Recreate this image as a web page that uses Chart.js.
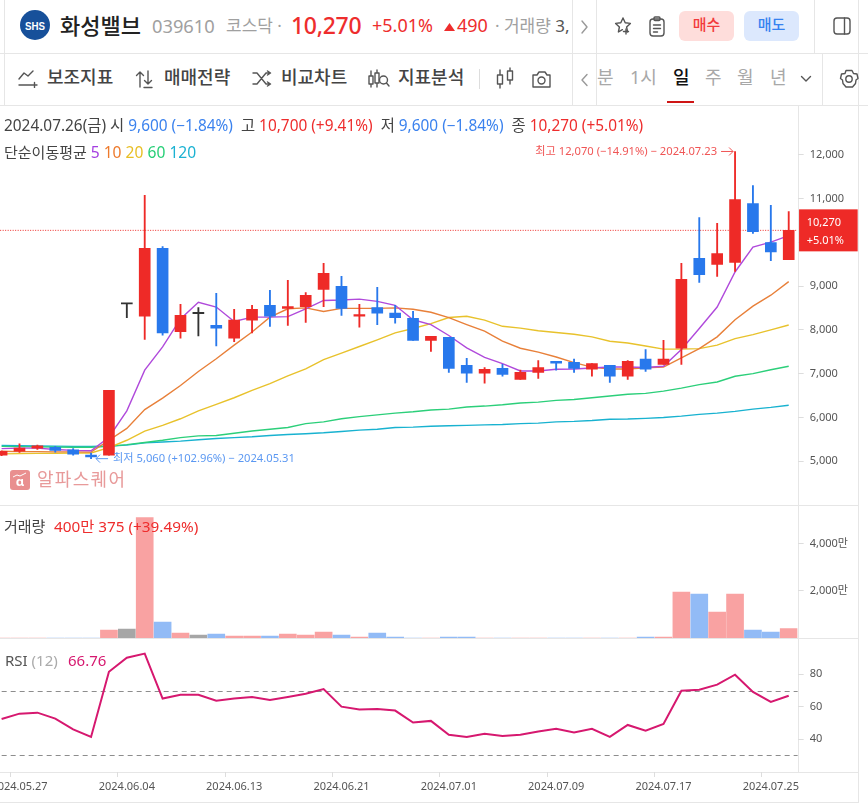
<!DOCTYPE html>
<html lang="ko">
<head>
<meta charset="utf-8">
<title>화성밸브</title>
<script src="https://cdn.jsdelivr.net/npm/chart.js@4"></script>
<style>
html,body{margin:0;padding:0;background:#fff;overflow:hidden;width:868px;height:806px;font-family:"Noto Sans","Noto Sans CJK KR",sans-serif;}
#page{position:relative;width:868px;height:806px;overflow:hidden;}
.t{position:absolute;white-space:nowrap;transform:translateY(-50%);line-height:1.2;}
.h{position:absolute;background:#e6e6e6;height:1px;}
.v{position:absolute;background:#e6e6e6;width:1px;}
.w{font-weight:500;color:#444;font-size:18px;}
.p{color:#a8a8a8;font-size:18px;}
.btn{position:absolute;top:11px;width:55px;height:30px;border-radius:6px;text-align:center;line-height:27px;font-size:15px;font-weight:500;}
.ic{position:absolute;fill:none;stroke:#555;stroke-width:1.4;stroke-linecap:round;stroke-linejoin:round;}
#cv{position:absolute;left:-8px;top:94px;}
.r{color:#ee2d2d}.b{color:#3b82ee}.k{color:#444}
</style>
</head>
<body>
<div id="page">
  <div class="h" style="left:0;top:53px;width:868px"></div>
  <div class="h" style="left:0;top:105px;width:868px"></div>
  <div class="v" style="left:4px;top:0;height:105px"></div>
  <div class="v" style="left:572px;top:0;height:105px"></div>
  <div class="v" style="left:596px;top:0;height:105px"></div>
  <div class="v" style="left:814px;top:0;height:53px"></div>
  <div class="v" style="left:822px;top:54px;height:51px"></div>
  <div class="v" style="left:858px;top:0;height:803px"></div>
  <div class="v" style="left:798px;top:106px;height:666px"></div>
  <div class="h" style="left:0;top:505px;width:858px"></div>
  <div class="h" style="left:0;top:638px;width:858px"></div>
  <div class="h" style="left:0;top:772px;width:858px"></div>
  <div class="h" style="left:0;top:802px;width:858px"></div>

  <svg style="position:absolute;left:20px;top:10px" width="30" height="30"><circle cx="15" cy="15" r="15" fill="#17509a"/><text x="15" y="19.5" text-anchor="middle" font-size="11.5" font-weight="900" fill="#fff" font-family="Liberation Sans Narrow,Liberation Sans" textLength="20" lengthAdjust="spacingAndGlyphs">SHS</text></svg>
  <span class="t" style="left:60px;top:25px;font-size:22px;font-weight:500;color:#222">화성밸브</span>
  <span class="t" style="left:152px;top:26px;font-size:18.300px;color:#a0a0a0">039610</span>
  <span class="t" style="left:226px;top:26px;font-size:17px;color:#a0a0a0">코스닥 ·</span>
  <span class="t r" style="left:291px;top:26px;font-size:23px;font-weight:500;letter-spacing:-.3px">10,270</span>
  <span class="t r" style="left:372px;top:26px;font-size:18px">+5.01%</span>
  <svg style="position:absolute;left:444px;top:23px" width="11" height="8"><path d="M5.5 0L11 8H0z" fill="#ee2d2d"/></svg>
  <span class="t r" style="left:457px;top:26px;font-size:18px">490</span>
  <div style="position:absolute;left:490px;top:10px;width:81px;height:32px;overflow:hidden">
    <span class="t" style="left:5px;top:16px;font-size:17px;color:#a0a0a0">· 거래량 <span style="color:#555">3,</span></span>
  </div>
  <svg class="ic" style="left:580px;top:20px" width="10" height="14"><path d="M2 1l5 6l-5 6" stroke="#999"/></svg>
  <svg class="ic" style="left:614px;top:16px" width="20" height="20"><path d="M9 2l2.2 4.8l5.2.6l-3.8 3.6l1 5l-1.2-.7M9 2L6.8 6.8l-5.2.6l3.8 3.6l-1 5l4-2.3"/><path d="M12 13v5M9.5 15.500h5"/></svg>
  <svg class="ic" style="left:648px;top:16px" width="18" height="21"><rect x="2" y="3" width="14" height="17" rx="3"/><rect x="6" y="1" width="6" height="3.500" rx="1"/><path d="M5.500 9h7M5.500 12.500h7M5.500 16h4"/></svg>
  <div class="btn" style="left:679px;background:#fedddb;color:#f23b3b">매수</div>
  <div class="btn" style="left:744px;background:#dce8fd;color:#3682f0">매도</div>
  <svg class="ic" style="left:832px;top:16px" width="20" height="20"><rect x="2" y="2" width="16" height="16" rx="3"/><path d="M12.500 2v16"/></svg>

  <svg class="ic" style="left:18px;top:70px" width="20" height="18"><path d="M1 9l5-6l4 3l5-5M1 15h13M16.500 12.500v5M14 15h5"/></svg>
  <span class="t w" style="left:47px;top:78px">보조지표</span>
  <svg class="ic" style="left:135px;top:69px" width="20" height="20"><path d="M5 18V3M1.500 6.500L5 3l3.500 3.500M13 2v13M9.500 11.500L13 15l3.500-3.500M9 18.500h8"/></svg>
  <span class="t w" style="left:164px;top:78px">매매전략</span>
  <svg class="ic" style="left:252px;top:70px" width="20" height="18"><path d="M1 3h4l9 11h4M1 14h4l9-11h4M15.500 1l3 2l-3 2M15.500 12l3 2l-3 2"/></svg>
  <span class="t w" style="left:281px;top:78px">비교차트</span>
  <svg class="ic" style="left:368px;top:69px" width="22" height="20"><path d="M3 2v16M9 1v17"/><rect x="1" y="7" width="4" height="8" fill="#fff"/><rect x="7" y="4" width="4" height="10" fill="#fff"/><circle cx="15.500" cy="11" r="4" fill="#fff"/><path d="M18.500 14l2.500 3"/></svg>
  <span class="t w" style="left:398px;top:78px">지표분석</span>
  <div class="v" style="left:479px;top:69px;height:20px;background:#ddd"></div>
  <svg class="ic" style="left:494px;top:67px" width="22" height="22"><path d="M6 3v18M16 1v16"/><rect x="3.500" y="8" width="5" height="9" fill="#fff"/><rect x="13.500" y="4" width="5" height="9" fill="#fff"/></svg>
  <svg class="ic" style="left:531px;top:69px" width="21" height="20"><path d="M2 6h4l2-3h6l2 3h3v12H2z"/><circle cx="10.500" cy="11.500" r="3.500"/></svg>
  <svg class="ic" style="left:580px;top:73px" width="10" height="14"><path d="M7 1.500L2 7l5 5.500" stroke="#999"/></svg>
  <span class="t p" style="left:597px;top:78px">분</span>
  <span class="t p" style="left:630px;top:78px">1시</span>
  <span class="t" style="left:673px;top:78px;font-size:18px;font-weight:500;color:#111">일</span>
  <span class="t p" style="left:705px;top:78px">주</span>
  <span class="t p" style="left:737px;top:78px">월</span>
  <span class="t p" style="left:770px;top:78px">년</span>
  <div style="position:absolute;left:667px;top:101px;width:27px;height:2px;background:#cf1515"></div>
  <svg class="ic" style="left:800px;top:74px" width="12" height="10"><path d="M1.500 2.500L6 7l4.500-4.500"/></svg>
  <svg class="ic" style="left:839px;top:69px" width="20" height="20"><path d="M7 1.500h6l1.500 3l3.500.5l1 4.500l-2 1.500l-.5 3.500l-3 3.500H7l-3-3.500l-.5-3.500l-2-1.500l1-4.500l3.500-.5z"/><circle cx="10" cy="10" r="3.200"/></svg>

  <canvas id="cv" width="876" height="712" style="width:876px;height:712px"></canvas>

  <span class="t" style="left:4px;top:126px;font-size:15.400px;color:#444">2024.07.26(금) 시 <span class="b">9,600 (−1.84%)</span>&nbsp; 고 <span class="r">10,700 (+9.41%)</span>&nbsp; 저 <span class="b">9,600 (−1.84%)</span>&nbsp; 종 <span class="r">10,270 (+5.01%)</span></span>
  <span class="t" style="left:4px;top:152px;font-size:15px;color:#444">단순이동평균 <span style="font-size:15.600px"><span style="color:#a43fe0">5</span> <span style="color:#ee7a2c">10</span> <span style="color:#e8bf25">20</span> <span style="color:#27cf77">60</span> <span style="color:#1bb2d2">120</span></span></span>
  <svg style="position:absolute;left:10px;top:470px" width="20" height="20"><rect width="20" height="20" rx="3" fill="#e98f8f"/><text x="10" y="16" text-anchor="middle" font-size="13" font-weight="700" fill="#fff">α</text><path d="M3 7l4-2l3 1l6-3" stroke="#fff" fill="none"/></svg>
  <span class="t" style="left:37px;top:480px;font-size:18px;color:#e89a9a;letter-spacing:1.300px">알파스퀘어</span>
  <span class="t" style="left:4px;top:526px;font-size:15px;color:#444">거래량</span>
  <span class="t r" style="left:54px;top:526px;font-size:15.300px">400만 375 (+39.49%)</span>
  <span class="t" style="left:5px;top:660px;font-size:15px;color:#555">RSI <span style="color:#aaa">(12)</span></span>
  <span class="t" style="left:68px;top:660px;font-size:15px;color:#d6186f">66.76</span>
</div>

<script>
const dates = ["2024.05.24","2024.05.27","2024.05.28","2024.05.29","2024.05.30","2024.05.31","2024.06.03","2024.06.04","2024.06.05","2024.06.07","2024.06.10","2024.06.11","2024.06.12","2024.06.13","2024.06.14","2024.06.17","2024.06.18","2024.06.19","2024.06.20","2024.06.21","2024.06.24","2024.06.25","2024.06.26","2024.06.27","2024.06.28","2024.07.01","2024.07.02","2024.07.03","2024.07.04","2024.07.05","2024.07.08","2024.07.09","2024.07.10","2024.07.11","2024.07.12","2024.07.15","2024.07.16","2024.07.17","2024.07.18","2024.07.19","2024.07.22","2024.07.23","2024.07.24","2024.07.25","2024.07.26"];
const shownDates = ["2024.05.27","2024.06.04","2024.06.13","2024.06.21","2024.07.01","2024.07.09","2024.07.17","2024.07.25"];
const opens  = [5140,5230,5300,5320,5260,5140,5140,8590,8310,9860,7960,8370,8100,7810,8220,8560,8490,8530,8920,8990,8310,8510,8380,8260,7760,7830,7190,7010,7120,6870,7030,7280,7260,7100,7190,6940,7330,7210,7580,9630,9490,9540,10880,9990,9600];
const closes = [5230,5300,5350,5250,5160,5100,6620,8590,9860,7930,8330,8370,8040,8220,8470,8310,8530,8790,9290,8490,8350,8380,8280,7760,7850,7120,7010,7100,6980,7030,7140,7240,7120,7230,6940,7280,7100,7330,9150,9260,9740,10970,10240,9780,10270];
const highs  = [5240,5400,5370,5340,5290,5190,6620,8590,11070,9900,8580,8510,8830,8470,8560,8900,9130,8850,9520,9220,8580,8970,8560,8420,7850,7830,7350,7140,7210,7080,7300,7280,7330,7230,7190,7300,7550,7760,9520,10560,10430,12070,11290,10840,10700];
const lows   = [5130,5200,5270,5210,5140,5060,5140,8280,7780,7880,7810,7860,7630,7730,7930,8080,8100,8170,8530,8330,8060,8120,8150,7760,7510,7030,6800,6780,6940,6870,6890,7080,7030,6940,6800,6870,7050,7210,7210,9080,9220,9330,10200,9580,9600];
const ma5   = [5290,5300,5300,5270,5250,5240,5550,6150,7080,7610,8250,8630,8520,8190,8290,8290,8300,8480,8670,8680,8700,8650,8560,8230,8120,7870,7590,7370,7230,7060,7060,7100,7105,7130,7150,7150,7140,7170,7550,8030,8520,9320,9890,10000,10150];
const ma10  = [5230,5220,5220,5215,5215,5210,5480,5750,6180,6440,6730,7050,7340,7650,7950,8290,8480,8500,8420,8490,8490,8490,8500,8470,8400,8280,8120,7970,7740,7580,7490,7380,7250,7150,7105,7105,7135,7150,7360,7570,7840,8230,8540,8790,9100];
const ma20  = [5170,5175,5180,5185,5190,5190,5310,5480,5690,5820,5970,6150,6300,6450,6620,6770,6950,7110,7320,7470,7620,7770,7930,8030,8140,8280,8310,8220,8080,8040,7980,7940,7900,7840,7740,7700,7630,7560,7560,7570,7650,7800,7890,8000,8110];
const ma60  = [5340,5335,5330,5325,5320,5320,5340,5380,5430,5480,5540,5580,5590,5640,5690,5730,5770,5860,5900,5970,6020,6060,6100,6130,6170,6190,6240,6260,6290,6330,6350,6390,6410,6450,6490,6530,6550,6600,6670,6750,6810,6940,7000,7090,7170];
const ma120 = [5360,5355,5350,5345,5340,5340,5350,5370,5420,5440,5460,5490,5520,5540,5560,5590,5610,5630,5650,5680,5710,5730,5770,5780,5800,5810,5820,5830,5840,5860,5870,5900,5910,5930,5960,5965,5980,6000,6030,6070,6100,6140,6190,6230,6280];
const volumes = [3,3,3,3,3,3,338,380,5100,676,211,127,169,85,85,85,169,127,254,127,42,211,42,3,3,42,42,3,3,3,3,3,3,3,3,3,42,42,1944,1860,1099,1860,338,254,400];
const rsi = [52.4,55.7,56.3,52.6,46,41.3,81.6,90.3,92.8,65,67.4,67.4,63.7,65,66,64.2,66,68,70.9,60,58.2,58.6,57.6,50.2,51.2,42.6,41.3,43.2,41.9,42.6,44.6,46.3,44,46.3,41.3,48.7,45.2,49.3,69.9,70.5,73.6,79.8,69.1,62.9,66.76];
const priceTicks = [5000,6000,7000,8000,9000,10000,11000,12000];
const volumeTicks = [2000,4000];
const rsiTicks = [40,60,80];
const rsiGuides = [30,70];

const RED='#ee2a27', BLUE='#2878ec', DARK='#333333';
const VRED='#f9a2a2', VBLUE='#92bbf6', VGRAY='#a6a6a6';
const tone = (i,u,d,f)=> closes[i]>opens[i]?u : closes[i]<opens[i]?d : f;
const candleColors = dates.map((_,i)=>tone(i,RED,BLUE,DARK));
const volumeColors = dates.map((_,i)=>tone(i,VRED,VBLUE,VGRAY));

const lastIndex = dates.length-1;
const hiIndex = highs.indexOf(Math.max(...highs));
const loIndex = lows.indexOf(Math.min(...lows));
const fmt = v=>v.toLocaleString('en-US');

const lineSet=(data,color)=>({type:'line',data,yAxisID:'price',borderColor:color,borderWidth:1.4,pointRadius:0,tension:0,order:5});

const overlays = {
  id:'overlays',
  beforeDatasetsDraw(c){
    const g=c.ctx, a=c.chartArea, px=c.scales.price, rs=c.scales.rsi;
    g.save();
    g.strokeStyle='#ee2a27'; g.lineWidth=1; g.setLineDash([1,1.5]);
    const y=px.getPixelForValue(closes[lastIndex]);
    g.beginPath(); g.moveTo(a.left,y); g.lineTo(a.right,y); g.stroke();
    g.strokeStyle='#8d8d8d'; g.setLineDash([5,4]);
    rsiGuides.forEach(v=>{const yy=Math.round(rs.getPixelForValue(v))+.5; g.beginPath(); g.moveTo(a.left,yy); g.lineTo(a.right,yy); g.stroke();});
    g.restore();
  },
  afterDraw(c){
    const g=c.ctx, a=c.chartArea, px=c.scales.price, x=c.scales.x;
    g.save();
    const fam='"Noto Sans","Noto Sans CJK KR",sans-serif';
    const y=px.getPixelForValue(closes[lastIndex]);
    g.fillStyle='#ee2a27'; g.fillRect(a.right+1.4,y-21,58.6,42);
    g.fillStyle='#fff'; g.font='11px '+fam; g.textBaseline='middle'; g.textAlign='left';
    g.fillText(fmt(closes[lastIndex]),a.right+9,y-7.6);
    g.fillText('+5.01%',a.right+9,y+10.4);
    const hx=x.getPixelForValue(hiIndex), hy=px.getPixelForValue(highs[hiIndex]);
    g.fillStyle=g.strokeStyle='#f05555'; g.lineWidth=1; g.font='11.2px '+fam; g.textAlign='right';
    g.fillText('최고 '+fmt(highs[hiIndex])+' (−14.91%) − '+dates[hiIndex],hx-18,hy);
    g.beginPath(); g.moveTo(hx-14,hy); g.lineTo(hx-2,hy); g.moveTo(hx-6,hy-4); g.lineTo(hx-2,hy); g.lineTo(hx-6,hy+4); g.stroke();
    const lx=x.getPixelForValue(loIndex), ly=px.getPixelForValue(lows[loIndex]);
    g.fillStyle=g.strokeStyle='#5b98f2'; g.textAlign='left';
    g.fillText('최저 '+fmt(lows[loIndex])+' (+102.96%) − '+dates[loIndex],lx+22,ly);
    g.beginPath(); g.moveTo(lx+17,ly); g.lineTo(lx+5,ly); g.moveTo(lx+9,ly-4); g.lineTo(lx+5,ly); g.lineTo(lx+9,ly+4); g.stroke();
    g.restore();
  }
};

const yAxisWidth = 70.34;
const tickFont={size:11,family:'"Noto Sans","Noto Sans CJK KR",sans-serif'};
const yScale=(min,max,weight,list,fmtTick,order)=>({
  type:'linear',position:'right',stack:'panes',stackWeight:weight,weight:order,min,max,
  grid:{drawOnChartArea:false,drawTicks:true,tickLength:6,tickColor:'#dddddd',tickWidth:1},
  border:{display:false},
  ticks:{autoSkip:false,padding:6,color:'#555',font:tickFont,callback:fmtTick},
  afterBuildTicks(s){s.ticks=list.map(value=>({value}));},
  afterFit(s){s.width=yAxisWidth;}
});

new Chart(document.getElementById('cv'),{
  data:{
    labels:dates,
    datasets:[
      {type:'bar',data:opens.map((o,i)=>[o,closes[i]]),yAxisID:'price',backgroundColor:candleColors,barThickness:11,minBarLength:1.2,grouped:false,order:1},
      {type:'bar',data:lows.map((l,i)=>[l,highs[i]]),yAxisID:'price',backgroundColor:candleColors,barThickness:1.2,grouped:false,order:2},
      lineSet(ma5,'#b04adb'),
      lineSet(ma10,'#e8803a'),
      lineSet(ma20,'#e8c22c'),
      lineSet(ma60,'#2ccf7a'),
      lineSet(ma120,'#18b2d0'),
      {type:'bar',data:volumes,yAxisID:'volume',backgroundColor:volumeColors,barThickness:17,grouped:false,order:1},
      {type:'line',data:rsi,yAxisID:'rsi',borderColor:'#d6186f',borderWidth:2,pointRadius:0,tension:0,order:1}
    ]
  },
  options:{
    responsive:false,animation:false,
    layout:{padding:{left:0.66,right:0,top:0,bottom:0}},
    plugins:{legend:{display:false},tooltip:{enabled:false}},
    scales:{
      x:{type:'category',position:'bottom',
        grid:{drawOnChartArea:false,drawTicks:true,tickLength:5,tickColor:c=>shownDates.includes(dates[c.index])?'#dddddd':'rgba(0,0,0,0)'},
        border:{display:false},
        ticks:{autoSkip:false,maxRotation:0,minRotation:0,padding:3,color:'#555',font:tickFont,
          callback(v,i){return shownDates.includes(dates[i])?dates[i]:'';}},
        afterFit(s){s.height=34;}
      },
      price:yScale(3997,13094,399,priceTicks,v=>fmt(v),1),
      volume:yScale(0,5624,133,volumeTicks,v=>fmt(v)+'만',2),
      rsi:yScale(19.6,102.4,134,rsiTicks,v=>String(v),3)
    }
  },
  plugins:[overlays]
});
</script>
</body>
</html>
